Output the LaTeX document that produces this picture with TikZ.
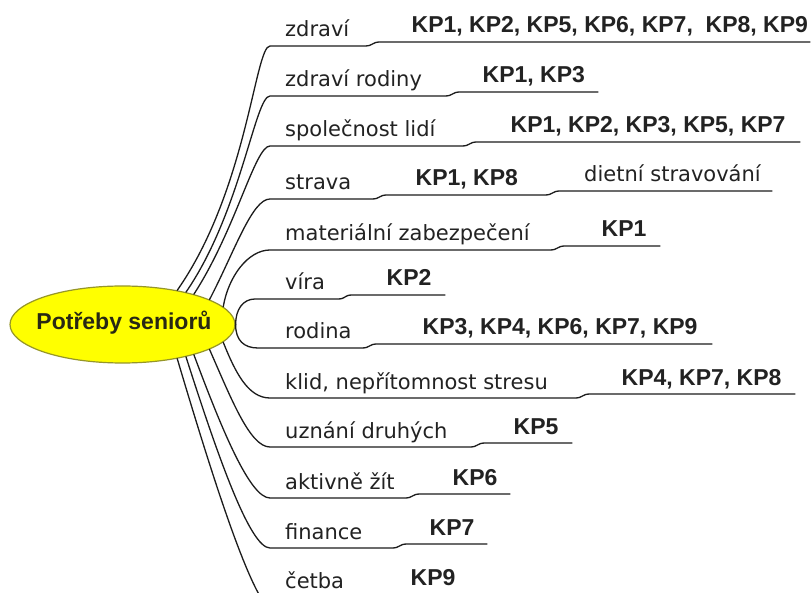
\documentclass[tikz,border=0pt]{standalone}
\usepackage{fontspec}
\setmainfont{DejaVu Sans}
\newfontfamily\kpfont{Liberation Sans}
\usetikzlibrary{shapes.geometric}
\definecolor{txt}{RGB}{34,34,34}
\definecolor{ln}{RGB}{28,28,28}
\definecolor{rim}{RGB}{150,150,40}
\definecolor{fillY}{RGB}{255,255,0}
\definecolor{roottxt}{RGB}{40,40,20}
\begin{document}
\begin{tikzpicture}[x=1pt,y=-1pt,
  lab/.style={anchor=base west, inner sep=0pt, text=txt, font=\fontsize{21}{24}\selectfont},
  kp/.style={anchor=base west, inner sep=0pt, text=txt, font=\kpfont\bfseries\fontsize{23}{26}\selectfont},
  branch/.style={draw=ln, line width=1.3pt, line cap=round, line join=round}]
\useasboundingbox (0,0) rectangle (811,593);
\clip (0,0) rectangle (811,593);
\fill[white] (0,0) rectangle (811,593);

% root
\node[ellipse, draw=rim, fill=fillY, line width=1.2pt, minimum width=225pt, minimum height=77pt, inner sep=0pt] (root) at (122.5,324.5) {};
\node[anchor=base, inner sep=0pt, text=roottxt, font=\kpfont\bfseries\fontsize{23}{26}\selectfont] (roottext) at (124,330) {Potřeby seniorů};

% coordinates
\coordinate (e0) at (270,46);  \coordinate (p0) at (365,46);  \coordinate (q0) at (380,42);  \coordinate (f0) at (810,42);
\coordinate (e1) at (270,96);  \coordinate (p1) at (445,96);  \coordinate (q1) at (460,92);  \coordinate (f1) at (598,92);
\coordinate (e2) at (270,146); \coordinate (p2) at (462,146); \coordinate (q2) at (477,142); \coordinate (f2) at (800,142);
\coordinate (e3) at (270,199); \coordinate (p3) at (372,199); \coordinate (q3) at (387,195);
\coordinate (p3b) at (545,195); \coordinate (q3b) at (560,191); \coordinate (f3) at (772,191);
\coordinate (e4) at (270,250); \coordinate (p4) at (550,250); \coordinate (q4) at (565,246); \coordinate (f4) at (660,246);
\coordinate (e5) at (255,299); \coordinate (p5) at (338,299); \coordinate (q5) at (352,295); \coordinate (f5) at (445,295);
\coordinate (e6) at (258,348); \coordinate (p6) at (362,348); \coordinate (q6) at (377,344); \coordinate (f6) at (712,344);
\coordinate (e7) at (270,398); \coordinate (p7) at (575,398); \coordinate (q7) at (590,394); \coordinate (f7) at (795,394);
\coordinate (e8) at (270,447); \coordinate (p8) at (470,447); \coordinate (q8) at (485,443); \coordinate (f8) at (572,443);
\coordinate (e9) at (270,498); \coordinate (p9) at (405,498); \coordinate (q9) at (420,494); \coordinate (f9) at (510,494);
\coordinate (e10) at (270,548); \coordinate (p10) at (392,548); \coordinate (q10) at (407,544); \coordinate (f10) at (487,544);
\coordinate (e11) at (275,612); \coordinate (f11) at (400,612);

% branches
\draw[branch] (root.32) .. controls +(70,-100) and +(-15,0) .. (e0) -- (p0) .. controls +(8,0) and +(-8,0) .. (q0) -- (f0);
\draw[branch] (root.27.5) .. controls +(55,-80) and +(-15,0) .. (e1) -- (p1) .. controls +(8,0) and +(-8,0) .. (q1) -- (f1);
\draw[branch] (root.23) .. controls +(42,-65) and +(-15,0) .. (e2) -- (p2) .. controls +(8,0) and +(-8,0) .. (q2) -- (f2);
\draw[branch] (root.16.5) .. controls +(25,-48) and +(-18,0) .. (e3) -- (p3) .. controls +(8,0) and +(-8,0) .. (q3) -- (p3b) .. controls +(8,0) and +(-8,0) .. (q3b) -- (f3);
\draw[branch] (root.10) .. controls +(5,-30) and +(-22,0) .. (e4) -- (p4) .. controls +(8,0) and +(-8,0) .. (q4) -- (f4);
\draw[branch] (root.east) .. controls +(0,-15) and +(-12,0) .. (e5) -- (p5) .. controls +(8,0) and +(-8,0) .. (q5) -- (f5);
\draw[branch] (root.east) .. controls +(0,16) and +(-14,0) .. (e6) -- (p6) .. controls +(8,0) and +(-8,0) .. (q6) -- (f6);
\draw[branch] (root.-10) .. controls +(12,30) and +(-22,0) .. (e7) -- (p7) .. controls +(8,0) and +(-8,0) .. (q7) -- (f7);
\draw[branch] (root.-16.5) .. controls +(22,50) and +(-20,0) .. (e8) -- (p8) .. controls +(8,0) and +(-8,0) .. (q8) -- (f8);
\draw[branch] (root.-23) .. controls +(28,75) and +(-20,0) .. (e9) -- (p9) .. controls +(8,0) and +(-8,0) .. (q9) -- (f9);
\draw[branch] (root.-27.5) .. controls +(32,100) and +(-20,0) .. (e10) -- (p10) .. controls +(8,0) and +(-8,0) .. (q10) -- (f10);
\draw[branch] (root.-32) .. controls +(36,121) and +(-20,0) .. (e11) -- (f11);

% labels
\node[lab] (l0) at (285,37) {zdraví};
\node[lab] (l1) at (285,87) {zdraví rodiny};
\node[lab] (l2) at (285,137) {společnost lidí};
\node[lab] (l3) at (285,190) {strava};
\node[lab] (l4) at (285,241) {materiální zabezpečení};
\node[lab] (l5) at (285,290) {víra};
\node[lab] (l6) at (285,339) {rodina};
\node[lab] (l7) at (285,389) {klid, nepřítomnost stresu};
\node[lab] (l8) at (285,438) {uznání druhých};
\node[lab] (l9) at (285,489) {aktivně žít};
\node[lab] (l10) at (285,539) {finance};
\node[lab] (l11) at (285,588) {četba};

% KP texts
\node[kp] (k0) at (411.5,33) {KP1, KP2, KP5, KP6, KP7,\ \ KP8, KP9};
\node[kp] (k1) at (482.5,83) {KP1, KP3};
\node[kp] (k2) at (510.5,133) {KP1, KP2, KP3, KP5, KP7};
\node[kp] (k3) at (415.5,186) {KP1, KP8};
\node[lab] (d3) at (584,182) {dietní stravování};
\node[kp] (k4) at (601.5,237) {KP1};
\node[kp] (k5) at (386.5,286) {KP2};
\node[kp] (k6) at (422.5,335) {KP3, KP4, KP6, KP7, KP9};
\node[kp] (k7) at (621.5,385) {KP4, KP7, KP8};
\node[kp] (k8) at (513.5,434) {KP5};
\node[kp] (k9) at (452.5,485) {KP6};
\node[kp] (k10) at (429.5,535) {KP7};
\node[kp] (k11) at (410.5,585) {KP9};
\end{tikzpicture}
\end{document}
